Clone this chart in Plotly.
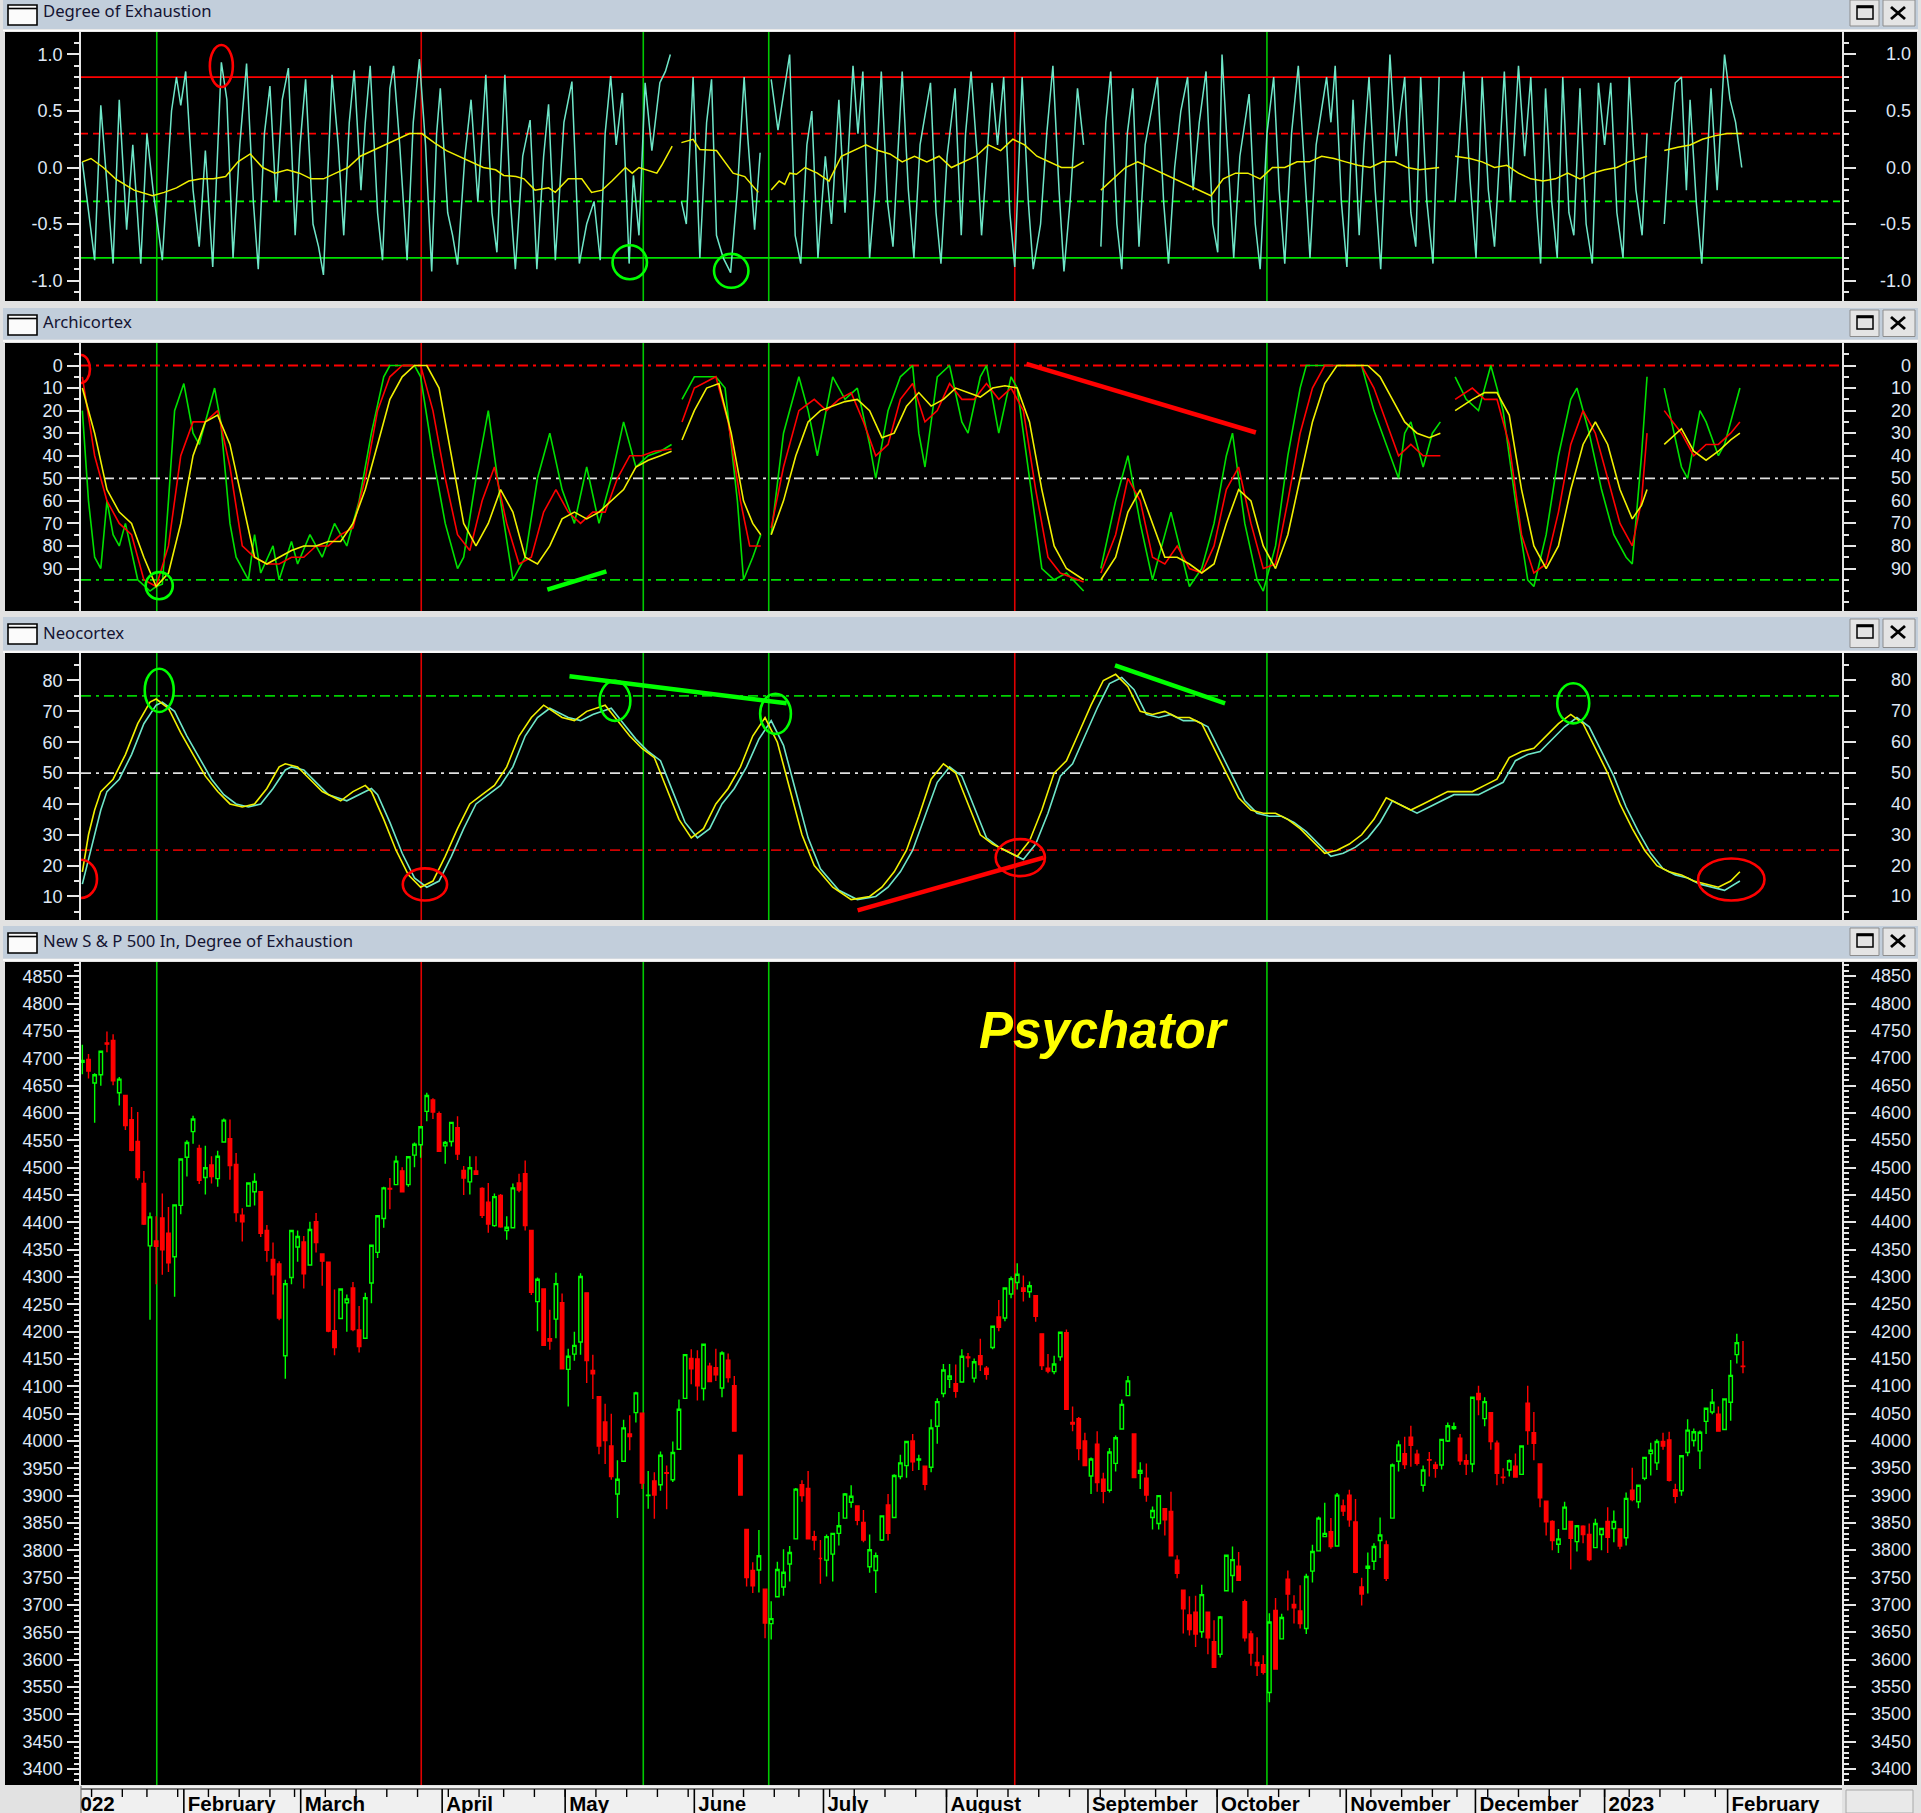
import plotly.graph_objects as go
import pandas as pd

W, H = 1921, 1813

# ---------------- calendar ----------------
holidays = ["2022-01-17", "2022-02-21", "2022-04-15", "2022-05-30", "2022-06-20",
            "2022-07-04", "2022-09-05", "2022-11-24", "2022-12-26", "2023-01-02", "2023-01-16"]
trading_days = pd.bdate_range("2022-01-03", "2023-02-03", freq="C", holidays=holidays)
first_bar = 3  # first drawn bar: 6 Jan 2022

month_labels = ["2022", "February", "March", "April", "May", "June", "July", "August",
                "September", "October", "November", "December", "2023", "February"]

# ---------------- price data (daily OHLC) ----------------
opens = [
    4693,4698,4655,4670,4728,4733,4637,4632,4588,4548,4471,4357,4366,4408,4380,4337,4431,
    4519,4566,4535,4482,4505,4480,4547,4553,4506,4413,4430,4456,4456,4385,4332,4324,4156,4299,4355,
    4364,4322,4401,4342,4327,4202,4224,4253,4280,4203,4188,4289,4345,4407,4462,4469,4494,4469,4523,4542,4603,4624,4599,
    4540,4548,4573,4495,4474,4494,4462,4437,4394,4449,4385,4390,4472,4489,4385,4255,4278,4187,4223,4253,
    4131,4159,4181,4271,4129,4081,4035,3991,3903,3963,4013,4052,4051,3900,3927,3920,3942,3929,3985,4078,4151,
    4150,4096,4137,4134,4097,4148,4101,3974,3838,3763,3764,3729,3666,3715,3733,3775,3821,3920,3913,3825,3785,
    3782,3793,3831,3859,3888,3881,3851,3770,3763,3819,3883,3860,3935,3955,4000,3965,3954,3952,4027,4087,
    4113,4105,4108,4154,4115,4156,4133,4171,4227,4225,4269,4290,4280,4273,4266,4196,4133,4127,4154,4198,4034,4041,4000,
    3936,3994,3930,3910,3959,4022,4083,4013,3941,3932,3860,3849,3876,3871,3782,3727,3682,3687,3651,3687,3633,
    3610,3726,3754,3771,3706,3647,3595,3591,3540,3690,3638,3747,3701,3689,3657,3762,3799,3825,3834,3808,3881,
    3901,3852,3733,3767,3780,3818,3810,3859,3963,3977,4007,3976,3919,3966,3956,3956,4000,4023,4005,3964,3958,
    4087,4041,4052,3996,3934,3947,3954,3939,4069,4015,3958,3890,3853,3811,3839,3853,3816,3844,3829,3805,3829,
    3853,3840,3839,3823,3910,3889,3932,3977,3960,3999,4002,3911,3909,3979,4001,3982,4036,4053,4049,4021,
    4071,4158,4137]
highs = [
    4725,4708,4673,4714,4749,4744,4666,4632,4611,4602,4494,4418,4411,4453,4428,4432,4516,
    4550,4595,4542,4540,4521,4531,4590,4588,4527,4426,4473,4490,4456,4395,4363,4329,4295,4385,4385,
    4375,4401,4417,4342,4327,4277,4279,4268,4291,4247,4271,4358,4412,4465,4481,4522,4501,4520,4546,4575,4637,4627,4603,
    4549,4583,4594,4503,4521,4521,4464,4472,4453,4452,4411,4471,4489,4513,4386,4299,4278,4240,4308,4270,
    4169,4200,4307,4271,4158,4082,4068,4050,3965,4039,4047,4090,4051,3945,3943,3981,3955,3999,4076,4158,4168,
    4166,4177,4143,4169,4164,4160,4119,3974,3838,3778,3837,3729,3707,3779,3802,3808,3914,3928,3945,3836,3819,
    3829,3832,3870,3905,3919,3881,3874,3829,3796,3863,3903,3939,3975,3999,4013,3975,3954,4040,4078,4141,
    4141,4140,4168,4161,4151,4187,4137,4211,4258,4280,4301,4325,4303,4292,4266,4196,4159,4156,4200,4204,4063,4044,4015,
    3970,4018,3942,3987,4010,4076,4119,4013,3961,3959,3880,3900,3876,3907,3791,3727,3716,3717,3737,3687,3672,
    3680,3792,3807,3797,3710,3653,3641,3608,3685,3713,3684,3763,3718,3736,3757,3810,3862,3887,3859,3905,3893,
    3911,3894,3750,3796,3813,3860,3818,3959,4001,4008,4028,3984,3955,3980,3962,4004,4034,4034,4013,3976,4080,
    4101,4080,4052,4001,3950,3966,3977,3991,4101,4053,3958,3890,3855,3839,3889,3853,3846,3846,3849,3858,3839,
    3879,3873,3839,3906,3951,3919,3970,3997,4003,4015,4017,3922,3973,4040,4023,4019,4061,4095,4063,4077,
    4148,4196,4183]
lows = [
    4671,4663,4582,4650,4711,4651,4614,4569,4530,4477,4395,4222,4287,4304,4309,4264,4415,
    4484,4544,4470,4451,4471,4465,4547,4478,4401,4365,4429,4431,4373,4328,4268,4221,4114,4287,4328,
    4279,4322,4345,4284,4199,4157,4224,4200,4201,4162,4187,4252,4335,4390,4424,4469,4456,4465,4501,4518,4585,4589,4530,
    4507,4539,4514,4450,4451,4487,4408,4381,4392,4390,4368,4390,4455,4385,4267,4201,4175,4167,4188,4131,
    4063,4147,4158,4106,4077,3976,3958,3929,3859,3963,3983,4034,3912,3876,3858,3909,3875,3925,3984,4078,4104,
    4074,4074,4108,4110,4080,4107,4017,3900,3734,3722,3723,3639,3637,3715,3717,3743,3821,3889,3820,3800,3739,
    3752,3743,3809,3859,3878,3846,3815,3759,3722,3817,3818,3860,3930,3933,3945,3947,3910,3943,3995,4080,
    4097,4079,4108,4135,4107,4128,4112,4168,4201,4219,4261,4277,4255,4262,4218,4130,4124,4122,4147,4057,4018,3965,3954,
    3903,3907,3886,3906,3944,4022,4083,3932,3912,3889,3838,3838,3827,3789,3749,3648,3644,3623,3640,3610,3585,
    3604,3726,3723,3744,3633,3589,3570,3573,3522,3584,3638,3690,3666,3657,3647,3741,3799,3825,3803,3808,3863,
    3843,3758,3699,3721,3764,3786,3744,3859,3944,3949,3953,3955,3907,3935,3933,3948,3998,4020,3956,3938,3943,
    4047,4027,3984,3919,3922,3935,3933,3938,3993,3965,3879,3827,3800,3795,3839,3765,3798,3813,3780,3805,3800,
    3795,3815,3802,3809,3890,3877,3928,3937,3947,3984,3926,3886,3900,3972,3990,3949,4013,4049,4017,4021,
    4037,4142,4124]
closes = [
    4696,4677,4670,4713,4726,4659,4662,4577,4532,4482,4397,4410,4356,4350,4326,4432,4516,
    4546,4589,4477,4500,4484,4521,4587,4504,4418,4401,4472,4475,4380,4349,4304,4225,4288,4385,4374,
    4306,4387,4363,4329,4201,4171,4278,4260,4204,4173,4262,4358,4412,4463,4461,4512,4456,4520,4543,4575,4632,4602,4530,
    4546,4583,4525,4481,4500,4488,4413,4397,4447,4392,4391,4463,4459,4394,4272,4296,4175,4183,4288,4132,
    4155,4175,4301,4147,4123,3991,4001,3935,3930,4024,4008,4088,3923,3901,3901,3974,3941,3979,4058,4158,4132,
    4101,4177,4109,4121,4161,4116,4018,3901,3750,3735,3790,3667,3675,3765,3760,3796,3912,3900,3821,3819,3785,
    3825,3831,3845,3903,3899,3855,3819,3801,3790,3863,3831,3937,3960,3999,3962,3967,3921,4024,4072,4130,
    4119,4091,4155,4152,4145,4140,4122,4210,4208,4280,4297,4305,4274,4284,4228,4138,4128,4141,4199,4058,4031,3986,3955,
    3967,3924,3908,3980,4006,4067,4110,3933,3946,3901,3873,3900,3856,3790,3758,3693,3655,3647,3719,3640,3586,
    3678,3791,3783,3745,3640,3612,3589,3577,3669,3583,3677,3720,3695,3666,3752,3798,3859,3831,3807,3901,3872,
    3856,3760,3720,3771,3807,3828,3749,3956,3993,3957,3992,3959,3947,3965,3950,4003,4028,4026,3964,3958,4080,
    4076,4072,3999,3941,3933,3964,3934,3991,4019,3996,3896,3852,3818,3821,3879,3822,3845,3829,3783,3849,3840,
    3824,3853,3808,3895,3893,3919,3970,3983,3999,3991,3928,3899,3973,4020,4017,4016,4060,4071,4018,4077,
    4120,4180,4136]

# ---------------- indicator data: (bar index, value); None = break ----------------
doe_cyan = [
    (3,0.05),(4,-0.4),(5,-0.82),(6,0.55),(7.2,-0.3),(8,-0.85),(9,0.6),(10.2,-0.55),(11.2,0.2),(12.5,-0.85),
    (13.5,0.3),(14.5,-0.2),(16,-0.82),(17.5,0.5),(18.3,0.8),(19,0.55),(19.8,0.85),(21,-0.2),(22,-0.7),(23,0.15),
    (24.2,-0.88),(25.6,0.93),(26.5,0.6),(27.5,-0.8),(28.6,0.2),(29.7,0.92),(30.8,-0.3),(31.6,-0.9),(32.6,0.3),(33.5,0.72),
    (34.5,-0.3),(35.5,0.6),(36.5,0.88),(37.6,-0.6),(38.4,0.2),(39.3,0.78),(40.5,-0.5),(41.4,-0.7),(42.2,-0.95),(43.6,0.82),
    (44.6,0.2),(45.5,-0.6),(46.4,0.4),(47.2,0.86),(48.3,-0.2),(49,0.4),(49.8,0.9),(51,-0.4),(51.8,-0.82),(53,0.7),
    (53.6,0.9),(54.6,0.2),(55.8,-0.82),(56.8,0.4),(57.8,0.96),(58.8,0.2),(59.8,-0.92),(60.6,0.3),(61.2,0.7),(62.4,-0.4),
    (63.2,-0.6),(64,-0.86),(65.2,0.1),(66.2,0.6),(67.3,-0.3),(68.6,0.82),(69.6,-0.4),(70.4,-0.75),(71.7,0.82),(72.6,-0.3),
    (73.4,-0.9),(74.6,0.1),(75.8,0.42),(76.9,-0.9),(78,0.1),(78.8,0.56),(79.9,-0.82),(81.3,0.4),(82.6,0.76),(83.8,-0.85),
    (85,-0.5),(86.2,-0.3),(87.2,-0.82),(88,0.3),(88.9,0.81),(89.8,0.2),(90.8,0.66),(91.9,-0.85),(92.6,-0.07),(93.5,-0.6),
    (94.5,0.75),(95.6,0.15),(96.9,0.75),(97.8,0.85),(98.6,1.0), None,
    (100.4,-0.3),(101.2,-0.5),(102.3,0.8),(103.4,-0.8),(104.5,0.4),(105.3,0.78),(106.1,-0.6),(107.2,-0.8),(108.4,-0.93),
    (109.5,-0.2),(110.6,0.8),(111.2,0.26),(112.3,-0.55),(113.2,0.13), None,
    (115,0.78),(116.1,0.33),(118,1.0),(118.9,-0.6),(119.8,-0.85),(120.8,0.2),(121.6,0.5),(122.6,-0.8),(123.8,0.1),
    (124.8,-0.5),(126,0.6),(127,-0.4),(128.3,0.9),(129.1,0.3),(129.9,0.85),(131,-0.8),(131.9,-0.2),(132.9,0.85),(133.9,-0.3),
    (134.8,-0.7),(136.3,0.85),(137.3,-0.2),(138.2,-0.8),(139.2,0.2),(140.9,0.75),(141.8,-0.4),(142.6,-0.85),(143.6,0.1),
    (144.9,0.7),(145.9,-0.6),(146.6,0.3),(147.5,0.85),(148.5,0.1),(149.2,-0.6),(150.9,0.75),(151.8,0.2),(152.8,0.8),
    (153.8,-0.4),(154.6,-0.88),(155.8,0.8),(156.8,-0.3),(157.6,-0.9),(158.8,-0.5),(159.8,0.3),(160.8,0.9),(161.8,-0.2),
    (162.6,-0.92),(163.6,-0.3),(164.8,0.7),(165.8,0.2), None,
    (168.6,-0.7),(169.4,0.4),(170.2,0.85),(171.2,-0.5),(172,-0.9),(172.9,0.3),(173.8,0.7),(174.8,-0.7),(175.8,0.2),
    (176.8,0.5),(177.8,0.8),(178.8,-0.3),(179.6,-0.85),(180.6,0.0),(181.6,0.5),(182.7,0.8),(183.6,-0.2),(184.6,0.4),
    (185.7,0.85),(186.8,-0.5),(187.6,-0.75),(188.3,1.0),(189.3,0.1),(190.2,-0.8),(191.2,0.1),(192.7,0.65),(193.7,-0.5),
    (194.5,-0.9),(195.6,0.3),(196.7,0.8),(197.6,-0.2),(198.5,-0.85),(199.6,0.3),(200.7,0.9),(201.7,0.0),(202.6,-0.8),
    (203.6,0.2),(205.3,0.8),(206,0.4),(206.7,0.9),(207.7,-0.3),(208.6,-0.88),(209.6,0.6),(210.6,-0.6),(211.4,0.2),
    (212.2,0.8),(213.2,-0.2),(214.1,-0.9),(215.6,1.0),(216.6,0.1),(217.3,0.5),(218,0.8),(219,-0.4),(219.8,-0.7),
    (220.6,0.8),(221.6,-0.3),(222.6,-0.85),(223.6,0.8), None,
    (226.2,-0.3),(227.6,0.85),(228.6,-0.1),(229.6,-0.8),(230.6,0.8),(231.6,-0.2),(232.6,-0.7),(234.2,0.85),(235.2,-0.3),
    (236.5,0.9),(237.5,0.1),(238.5,0.8),(239.5,-0.4),(240.1,-0.85),(240.9,0.7),(241.9,-0.3),(242.8,-0.8),(243.7,0.8),
    (244.7,-0.4),(245.5,-0.6),(246.5,0.7),(247.5,-0.5),(248.5,-0.85),(249.5,0.75),(250.5,0.2),(251.5,0.75),(252.5,-0.4),
    (253.5,-0.8),(254.5,0.8),(255.6,-0.2),(256.6,-0.6),(257.4,0.3), None,
    (260.2,-0.5),(261,0.2),(262,0.75),(263,0.8),(263.8,-0.2),(264.4,0.6),(265.4,-0.3),(266.3,-0.85),(267.8,0.7),
    (268.8,-0.2),(270,1.0),(270.9,0.6),(271.8,0.4),(272.8,0.0)]

doe_yellow = [
    (3,0.05),(4.4,0.08),(6.4,0.0),(8.4,-0.1),(11.4,-0.2),(14.4,-0.25),(16.3,-0.22),(18.3,-0.18),(20.3,-0.12),
    (22.3,-0.1),(24.3,-0.1),(26.3,-0.08),(28.3,0.05),(30.3,0.12),(32.3,0.0),(34.3,-0.05),(36.3,-0.02),(38.3,-0.05),
    (40.2,-0.1),(42.2,-0.1),(44.2,-0.05),(46.2,0.0),(48.2,0.1),(50.2,0.15),(52.2,0.2),(54.2,0.25),(56.2,0.3),
    (58.2,0.3),(60.2,0.22),(62.2,0.15),(64.2,0.1),(66.2,0.05),(68.2,0.0),(70.2,-0.02),(71.5,-0.07),(73.5,-0.08),
    (74.8,-0.1),(76.6,-0.2),(78.8,-0.18),(79.9,-0.22),(82,-0.1),(84.2,-0.1),(85.8,-0.22),(87.5,-0.2),(89.1,-0.12),
    (91.3,0.0),(92.4,-0.05),(93.5,0.0),(95.1,-0.03),(96.4,-0.05),(97.2,0.02),(98.9,0.19), None,
    (100.4,0.22),(102.3,0.25),(103.4,0.16),(106.1,0.15),(108.8,-0.05),(110.7,-0.08),(112.9,-0.22), None,
    (115,-0.2),(116.3,-0.12),(117.2,-0.15),(118,-0.05),(119.1,-0.06),(120.5,0.0),(122.5,-0.05),(124.4,-0.12),
    (126.4,0.1),(128.4,0.15),(130.4,0.2),(132.4,0.15),(134.3,0.12),(136.3,0.05),(138.3,0.1),(140.3,0.05),
    (142.3,0.1),(144.3,0.0),(146.3,0.05),(148.3,0.1),(150.3,0.2),(152.3,0.15),(154.3,0.25),(156.2,0.2),
    (158.2,0.1),(160.2,0.05),(162.2,0.0),(164.2,0.0),(165.8,0.05), None,
    (168.6,-0.2),(170.6,-0.1),(172.6,0.0),(174.6,0.05),(176.6,0.0),(178.6,-0.05),(180.5,-0.1),(182.5,-0.15),
    (184.5,-0.2),(186.5,-0.25),(188.5,-0.1),(190.5,-0.05),(192.5,-0.05),(194.5,-0.1),(196.5,0.0),(198.5,0.0),
    (200.5,0.05),(202.5,0.05),(204.5,0.1),(206.5,0.08),(208.4,0.05),(210.4,0.02),(212.4,0.0),(214.4,0.05),
    (216.4,0.05),(218.4,0.0),(220.4,-0.02),(223.6,0.0), None,
    (226.2,0.1),(228.6,0.08),(230.6,0.05),(232.6,0.0),(234.6,0.02),(236.5,-0.05),(238.5,-0.1),(240.5,-0.12),
    (242.5,-0.1),(244.5,-0.05),(246.5,-0.1),(248.5,-0.05),(250.5,-0.02),(252.5,0.0),(254.4,0.05),(257.4,0.1), None,
    (260.2,0.15),(262.4,0.18),(264.4,0.2),(266.4,0.25),(268.4,0.28),(270.4,0.3),(272.8,0.3)]

arch_green = [
    (3,20),(4,60),(5,85),(6,90),(7,60),(8,75),(9,80),(10,70),(12,95),(14,100),(15,98),(16,97),(17,60),(18,20),
    (19.5,8),(21,30),(22,35),(24.5,10),(25.5,25),(27,70),(28,85),(30,95),(31,75),(32,92),(34,80),(35,95),(37,78),
    (38,88),(40,75),(42,85),(44,70),(46,80),(48,60),(50,30),(52,5),(53,0),(57,0),(58,5),(60,40),(62,70),(64,90),
    (65,85),(67,50),(69,20),(71,60),(73,95),(75,85),(77,50),(79,30),(81,55),(83,70),(85,45),(87,70),(89,50),(91,25),
    (93,45),(95,40),(97,38),(98.8,35), None,
    (100.5,15),(102.5,5),(106,5),(107.5,10),(109.5,60),(110.5,95),(112,85),(113.3,75), None,
    (115,75),(117,30),(119.5,5),(121,20),(122.5,40),(125,5),(127,15),(129,10),(131,35),(132,50),(134,20),(136,5),
    (138,0),(139,30),(140,45),(142,5),(144,0),(146,25),(147,30),(149,5),(150,0),(152,30),(154,5),(155,10),(157,50),
    (159,90),(161,95),(163,92),(165.8,100), None,
    (168.6,90),(171,60),(173,40),(175,70),(177,95),(180,65),(183,98),(185,90),(187,70),(189,40),(190,30),(192,70),
    (194,95),(195,100),(197,80),(199,40),(201,10),(202,0),(211,0),(213,20),(215,35),(217,50),(218,30),(219,25),
    (221,45),(222.5,30),(223.8,25), None,
    (226.2,5),(228,15),(230,20),(232,0),(234,20),(236,60),(238,95),(239,98),(241,75),(243,40),(245,15),(246,10),
    (248,30),(250,55),(252,75),(254,85),(255,88),(256.5,40),(257.4,5), None,
    (260.2,10),(263,45),(264,50),(266,20),(267,25),(269,40),(270,35),(272.5,10)]

arch_red = [
    (3,5),(5,40),(7,60),(9,70),(11,75),(13,95),(15,98),(17,80),(19,40),(21,25),(23,25),(25,20),(27,45),(29,80),
    (31,85),(33,88),(35,88),(37,85),(39,85),(41,80),(43,80),(45,75),(47,72),(49,50),(51,20),(53,5),(55,0),(58,0),
    (60,20),(62,50),(64,75),(66,82),(68,60),(70,45),(72,70),(74,88),(76,85),(78,65),(80,55),(82,65),(84,70),(86,65),
    (88,65),(90,50),(92,40),(94,40),(96,38),(98.8,37), None,
    (100.5,25),(102.5,10),(106,5),(108,25),(110,60),(111.5,80),(113.3,80), None,
    (115,72),(117,45),(119.5,20),(122,15),(124,20),(126,15),(128,12),(130,25),(132,40),(134,35),(136,15),(138,8),
    (140,25),(142,20),(144,8),(146,15),(148,15),(150,8),(152,15),(154,10),(156,20),(158,55),(160,85),(162,92),
    (165.8,96), None,
    (168.6,92),(171,75),(173,50),(175,60),(177,85),(179,88),(181,80),(183,90),(185,92),(187,80),(189,55),(191,45),
    (193,70),(195,90),(197,88),(199,60),(201,30),(203,10),(205,0),(211,0),(213,10),(215,25),(217,40),(219,35),
    (221,40),(223.8,40), None,
    (226.2,15),(229,10),(231,15),(233,15),(235,35),(237,75),(239,92),(241,88),(243,65),(245,35),(247,20),(249,30),
    (251,50),(253,70),(255,80),(256.5,60),(257.4,30), None,
    (260.2,20),(263,30),(265,40),(267,35),(269,35),(271,30),(272.5,25)]

arch_yellow = [
    (3,10),(5,30),(7,55),(9,65),(11,70),(13,85),(15,98),(17,92),(19,70),(21,40),(23,25),(25,22),(27,35),(29,60),
    (31,85),(33,88),(35,85),(37,82),(39,80),(41,80),(43,78),(45,78),(47,70),(49,55),(51,35),(53,15),(55,5),(57,0),
    (59,0),(61,10),(63,40),(65,70),(67,80),(69,70),(71,55),(73,65),(75,85),(77,88),(79,80),(81,68),(83,65),(85,68),
    (87,65),(89,60),(91,55),(93,45),(95,42),(97,40),(98.8,38), None,
    (100.5,33),(102.5,20),(104.5,10),(106.5,8),(108.5,30),(110.5,60),(112,70),(113.3,75), None,
    (115,75),(117,60),(119,40),(121,25),(123,20),(125,18),(127,16),(129,15),(131,20),(133,32),(135,30),(137,18),
    (139,12),(141,18),(143,15),(145,10),(147,12),(149,14),(151,10),(153,9),(155,10),(157,25),(159,55),(161,80),
    (163,90),(165.8,95), None,
    (168.6,95),(171,85),(173,65),(175,55),(177,70),(179,85),(181,85),(183,88),(185,92),(187,88),(189,70),(191,55),
    (193,60),(195,80),(197,90),(199,75),(201,50),(203,25),(205,8),(207,0),(212,0),(214,5),(216,15),(218,25),
    (220,30),(222,32),(223.8,30), None,
    (226.2,20),(229,15),(231,12),(233,12),(235,22),(237,55),(239,80),(241,90),(243,80),(245,55),(247,35),(249,25),
    (251,35),(253,55),(255,68),(256.5,62),(257.4,55), None,
    (260.2,35),(263,28),(265,38),(267,42),(269,38),(271,33),(272.5,30)]

neo_yellow = [
    (3,18),(4,30),(5,38),(6,44),(8,48),(10,56),(12,66),(14,73),(15,74),(17,71),(19,63),(21,56),(23,49),(25,44),
    (27,40),(29,39),(31,40),(33,45),(35,52),(36,53),(38,52),(40,48),(42,44),(45,41),(47,44),(49,46),(50,44),(52,35),
    (54,25),(56,17),(58,13),(60,15),(62,23),(64,32),(66,40),(68,43),(70,46),(72,52),(74,62),(76,68),(78,72),(81,68),
    (83,67),(85,70),(88,72),(90,67),(92,62),(94,58),(96,55),(98,45),(100,35),(102,29),(104,32),(106,40),(108,45),
    (110,52),(112,62),(114,68),(116,60),(118,45),(120,30),(122,20),(125,13),(128,9),(131,10),(133,13),(135,18),
    (137,25),(139,36),(141,48),(143,53),(145,50),(147,40),(149,30),(151,27),(153,25),(155,23),(157,28),(159,38),
    (161,50),(163,54),(165,63),(167,72),(169,80),(171,82),(173,78),(175,70),(177,69),(179,70),(181,68),(183,68),
    (185,66),(187,58),(189,50),(191,42),(193,38),(195,37),(197,37),(199,35),(201,32),(203,28),(205,24),(207,25),
    (209,27),(211,30),(213,35),(215,42),(217,40),(219,38),(221,40),(223,42),(225,44),(227,44),(229,44),(231,46),
    (233,48),(235,55),(237,57),(239,58),(241,62),(243,66),(245,69),(247,66),(249,58),(251,50),(253,40),(255,32),
    (257,25),(259,20),(261,18),(263,17),(265,15),(267,14),(269,13),(271,15),(272.5,18)]

neo_cyan = [
    (3,14),(4,22),(5,30),(6,38),(7,44),(9,48),(11,56),(13,66),(15,72),(16,73),(18,70),(20,62),(22,55),(24,48),
    (26,43),(28,40),(30,39),(32,40),(34,45),(36,51),(37,52),(39,51),(41,47),(43,43),(46,41),(48,43),(50,45),(51,43),
    (53,34),(55,24),(57,16),(59,13),(61,15),(63,23),(65,32),(67,40),(69,43),(71,46),(73,52),(75,62),(77,68),(79,71),
    (82,68),(84,67),(86,69),(89,71),(91,66),(93,61),(95,57),(97,54),(99,44),(101,34),(103,29),(105,32),(107,40),
    (109,45),(111,52),(113,61),(115,67),(117,59),(119,44),(121,29),(123,19),(126,12),(129,9),(132,10),(134,13),
    (136,18),(138,25),(140,36),(142,47),(144,52),(146,49),(148,39),(150,29),(152,26),(154,24),(156,22),(158,27),
    (160,37),(162,49),(164,53),(166,62),(168,71),(170,79),(172,81),(174,77),(176,69),(178,68),(180,69),(182,67),
    (184,67),(186,65),(188,57),(190,49),(192,41),(194,37),(196,36),(198,36),(200,34),(202,31),(204,27),(206,23),
    (208,24),(210,26),(212,29),(214,34),(216,41),(218,39),(220,37),(222,39),(224,41),(226,43),(228,43),(230,43),
    (232,45),(234,47),(236,54),(238,56),(240,57),(242,61),(244,65),(246,68),(248,65),(250,57),(252,49),(254,39),
    (256,31),(258,24),(260,19),(262,17),(264,16),(266,14),(268,13),(270,12),(272.5,15)]

# vertical marker lines (bar index, colour)
vlines = [(15.1, "#00c800"), (58.1, "#e00000"), (94.2, "#00c800"),
          (114.6, "#00c800"), (154.6, "#e00000"), (195.6, "#00c800")]

# hand-drawn markup: (panel, kind, a, b, c, d, colour)
markup = [
    (1, "ellipse", 25.6, 0.898, 1.87, 0.186, "#ff0000"),
    (1, "ellipse", 92.0, -0.838, 2.8, 0.15, "#00ff00"),
    (1, "ellipse", 108.5, -0.914, 2.8, 0.15, "#00ff00"),
    (2, "ellipse", 2.78, 1.55, 1.46, 6.2, "#ff0000"),
    (2, "ellipse", 15.5, 97.6, 2.2, 6.0, "#00ff00"),
    (2, "line", 78.6, 99.4, 88.2, 91.3, "#00ff00"),
    (2, "line", 156.5, -0.7, 193.8, 29.7, "#ff0000"),
    (3, "ellipse", 15.5, 76.8, 2.36, 7.0, "#00ff00"),
    (3, "ellipse", 89.6, 73.4, 2.5, 6.5, "#00ff00"),
    (3, "ellipse", 115.7, 69.2, 2.5, 6.5, "#00ff00"),
    (3, "ellipse", 245.4, 72.6, 2.6, 6.5, "#00ff00"),
    (3, "ellipse", 2.78, 15.7, 2.6, 6.2, "#ff0000"),
    (3, "ellipse", 58.7, 13.9, 3.6, 5.2, "#ff0000"),
    (3, "ellipse", 155.5, 22.6, 4.0, 6.0, "#ff0000"),
    (3, "ellipse", 271.1, 15.5, 5.4, 6.8, "#ff0000"),
    (3, "line", 82.2, 81.4, 117.5, 72.6, "#00ff00"),
    (3, "line", 170.9, 84.9, 188.8, 72.6, "#00ff00"),
    (3, "line", 129.05, 5.5, 159.3, 22.6, "#ff0000"),
]

# ---------------- layout constants ----------------
X0, X1 = 81, 1842
X_RANGE = [2.78, 289.1]
AX = "#e6e6e6"
TICKFONT = dict(family="Liberation Sans, Arial, sans-serif", size=18, color="#dfe7f5")
DASH = "7px,5px"
DASHDOT = "10px,5px,3px,5px"

panels = [
    dict(name="Degree of Exhaustion", bar=(-2, 29), box=(32, 301), yr=[-1.181, 1.199],
         ticks=[-1.0, -0.5, 0.0, 0.5, 1.0], fmt="{:.1f}", minor=0.1, tcenter=10.5,
         levels=[(0.8, "#ff0000", "solid"), (0.3, "#ff0000", DASH), (-0.3, "#00ff00", DASH), (-0.8, "#00e000", "solid")]),
    dict(name="Archicortex", bar=(308, 339.5), box=(343, 611), yr=[108.84, -9.98],
         ticks=list(range(0, 100, 10)), fmt="{:.0f}", minor=5, tcenter=321,
         levels=[(0, "#ff0000", DASHDOT), (50, "#e0e0e0", DASHDOT), (95, "#00e000", DASHDOT)]),
    dict(name="Neocortex", bar=(617, 650.5), box=(653, 920), yr=[2.38, 88.91],
         ticks=list(range(10, 90, 10)), fmt="{:.0f}", minor=5, tcenter=632,
         levels=[(75, "#00d000", DASHDOT), (50, "#e0e0e0", DASHDOT), (25, "#d00000", DASHDOT)]),
    dict(name="New S & P 500 In, Degree of Exhaustion", bar=(926, 958.5), box=(962, 1785), yr=[3370.7, 4876.3],
         ticks=list(range(3400, 4900, 50)), fmt="{:.0f}", minor=10, tcenter=941, levels=[]),
]


def prect(x0, y0, x1, y1, fill, line=None, lw=0):
    return dict(type="rect", xref="paper", yref="paper", x0=x0 / W, x1=x1 / W, y0=1 - y1 / H, y1=1 - y0 / H,
                fillcolor=fill, line=dict(color=line or fill, width=lw), layer="below")


def pline(x0, y0, x1, y1, color, w):
    return dict(type="line", xref="paper", yref="paper", x0=x0 / W, x1=x1 / W, y0=1 - y0 / H, y1=1 - y1 / H,
                line=dict(color=color, width=w), layer="below")


def split(points):
    xs, ys = [], []
    for p in points:
        if p is None:
            xs.append(None); ys.append(None)
        else:
            xs.append(p[0]); ys.append(p[1])
    return xs, ys


def sfx(k):
    return "" if k == 1 else str(k)


fig = go.Figure()
shapes, annos = [], []
layout = dict(width=W, height=H, margin=dict(l=0, r=0, t=0, b=0), paper_bgcolor="#e2e2e2",
              plot_bgcolor="rgba(0,0,0,0)", showlegend=False, hovermode=False, boxgap=0.2)

for k, p in enumerate(panels, start=1):
    s = sfx(k)
    b0, b1 = p["bar"]
    t0, t1 = p["box"]
    # window frame
    shapes.append(prect(3, b0, 1918, b1, "#c2cedb"))
    shapes.append(pline(3, b1 + 1.5, 1918, b1 + 1.5, "#ffffff", 1.5))
    shapes.append(prect(5, t0, 1917, t1, "#000000"))
    # window icon
    shapes.append(prect(8, b0 + 7, 37, b0 + 27, "#fbfbfb", "#000000", 1.6))
    shapes.append(pline(8, b0 + 10.5, 37, b0 + 10.5, "#000000", 1.6))
    # buttons
    by0, by1 = b0 + 2, b1 - 3
    shapes.append(prect(1850, by0, 1879, by1, "#e4e4e4", "#8c8c8c", 1))
    shapes.append(prect(1883, by0, 1915, by1, "#e4e4e4", "#8c8c8c", 1))
    shapes.append(prect(1857, by0 + 6, 1873, by0 + 19, "rgba(0,0,0,0)", "#000000", 1.5))
    shapes.append(pline(1857, by0 + 7, 1873, by0 + 7, "#000000", 2.5))
    shapes.append(pline(1891, by0 + 7, 1905, by0 + 19, "#000000", 2.8))
    shapes.append(pline(1891, by0 + 19, 1905, by0 + 7, "#000000", 2.8))
    annos.append(dict(xref="paper", yref="paper", x=41 / W, y=1 - p["tcenter"] / H, xanchor="left",
                      yanchor="middle", text=p["name"], showarrow=False,
                      font=dict(family="Noto Sans, sans-serif", size=16.7, color="#141432")))

    layout["xaxis" + s] = dict(domain=[X0 / W, X1 / W], range=X_RANGE, visible=False, anchor="y" + s,
                               fixedrange=True)
    layout["yaxis" + s] = dict(
        domain=[1 - t1 / H, 1 - t0 / H], range=p["yr"], anchor="x" + s, tickmode="array",
        tickvals=p["ticks"], ticktext=[p["fmt"].format(t) for t in p["ticks"]], ticks="outside",
        ticklen=12, tickwidth=1.5, tickcolor=AX, showline=True, linecolor=AX, linewidth=1.5,
        mirror="ticks", showgrid=False, zeroline=False, tickfont=TICKFONT, ticklabelstandoff=1,
        fixedrange=True,
        minor=dict(tickmode="linear", tick0=p["ticks"][0], dtick=p["minor"], ticks="outside",
                   ticklen=5, tickwidth=1.5, tickcolor=AX, showgrid=False))
    # right-hand labels
    for t in p["ticks"]:
        annos.append(dict(xref="paper", yref="y" + s, x=1913 / W, y=t, xanchor="right", yanchor="middle",
                          text=p["fmt"].format(t), showarrow=False, font=TICKFONT))
    # vertical marker lines
    for vx, col in vlines:
        shapes.append(dict(type="line", xref="x" + s, yref="y" + s + " domain", x0=vx, x1=vx, y0=0, y1=1,
                           line=dict(color=col, width=1.6), layer="below"))
    # horizontal levels
    for lv, col, dash in p["levels"]:
        shapes.append(dict(type="line", xref="x" + s + " domain", yref="y" + s, x0=0, x1=1, y0=lv, y1=lv,
                           line=dict(color=col, width=1.8, dash=dash), layer="below"))

layout["xaxis4"]["rangeslider"] = dict(visible=False)

# markup
for k, kind, a, b, c, d, col in markup:
    s = sfx(k)
    if kind == "ellipse":
        shapes.append(dict(type="circle", xref="x" + s, yref="y" + s, x0=a - c, x1=a + c, y0=b - d, y1=b + d,
                           line=dict(color=col, width=2.6), layer="above"))
    else:
        shapes.append(dict(type="line", xref="x" + s, yref="y" + s, x0=a, x1=c, y0=b, y1=d,
                           line=dict(color=col, width=4.5), layer="above"))

# ---------------- traces ----------------
def add_line(points, color, k, width=1.5):
    xs, ys = split(points)
    s = sfx(k)
    fig.add_trace(go.Scatter(x=xs, y=ys, mode="lines", line=dict(color=color, width=width),
                             xaxis="x" + s, yaxis="y" + s, connectgaps=False, hoverinfo="skip"))


add_line(doe_cyan, "#6ee6c8", 1, 1.5)
add_line(doe_yellow, "#f0f000", 1, 1.5)
add_line(arch_green, "#00e000", 2, 1.6)
add_line(arch_red, "#ff0000", 2, 1.6)
add_line(arch_yellow, "#f0f000", 2, 1.6)
add_line(neo_cyan, "#6ee6c8", 3, 1.6)
add_line(neo_yellow, "#f0f000", 3, 1.6)

n = min(len(opens), len(highs), len(lows), len(closes))
bar_x = list(range(first_bar, first_bar + n))
fig.add_trace(go.Candlestick(
    x=bar_x, open=opens[:n], high=highs[:n], low=lows[:n], close=closes[:n],
    xaxis="x4", yaxis="y4", whiskerwidth=0,
    increasing=dict(line=dict(color="#00ff00", width=1.4), fillcolor="#000000"),
    decreasing=dict(line=dict(color="#ff0000", width=1.4), fillcolor="#ff0000"),
    hoverinfo="skip"))

annos.append(dict(xref="paper", yref="paper", x=1104 / W, y=1 - 1030 / H, xanchor="center", yanchor="middle",
                  text="<b><i>Psychator</i></b>", showarrow=False,
                  font=dict(family="Liberation Sans, Arial, sans-serif", size=51, color="#ffff00")))

# ---------------- date strip ----------------
month_starts = [i for i in range(len(trading_days))
                if i == 0 or trading_days[i].month != trading_days[i - 1].month]
week_starts = [i for i in range(1, len(trading_days))
               if trading_days[i].weekday() < trading_days[i - 1].weekday()]
# gap (in bars) between a month boundary and the start of its label; the first
# (year) label sits so that only "022" shows past the axis, as in the original
label_gap = [1.35] + [0.65] * (len(month_starts) - 1)

shapes.append(prect(81, 1786, 1842, 1813, "#f0f0f0"))
shapes.append(pline(81, 1789, 1842, 1789, "#000000", 1.2))
shapes.append(pline(81, 1786, 81, 1813, "#7a7a7a", 1.2))
shapes.append(prect(1846, 1790, 1913, 1813, "#e9e9e9", "#a8a8a8", 1))
for i in week_starts:
    shapes.append(dict(type="line", xref="x5", yref="y5", x0=i - 0.5, x1=i - 0.5, y0=1789, y1=1797,
                       line=dict(color="#000000", width=1.4), layer="below"))
for i in month_starts:
    shapes.append(dict(type="line", xref="x5", yref="y5", x0=i - 0.5, x1=i - 0.5, y0=1789, y1=1813,
                       line=dict(color="#000000", width=1.6), layer="below"))

layout["xaxis5"] = dict(domain=[X0 / W, X1 / W], range=X_RANGE, visible=False, anchor="y5", fixedrange=True)
layout["yaxis5"] = dict(domain=[0, 1 - 1786 / H], range=[1813, 1786], visible=False, anchor="x5", fixedrange=True)
fig.add_trace(go.Scatter(
    x=[i - 0.5 + g for i, g in zip(month_starts, label_gap)], y=[1806] * len(month_starts),
    text=month_labels[:len(month_starts)], mode="text", textposition="middle right",
    textfont=dict(family="Liberation Sans, Arial, sans-serif", size=20.5, color="#000000", weight="bold"),
    xaxis="x5", yaxis="y5", cliponaxis=True, hoverinfo="skip"))

layout["shapes"] = shapes
layout["annotations"] = annos
fig.update_layout(**layout)
fig.write_html("out.html", config={"displayModeBar": False},
               post_script="document.body.style.margin='0px';document.body.style.overflow='hidden';")
